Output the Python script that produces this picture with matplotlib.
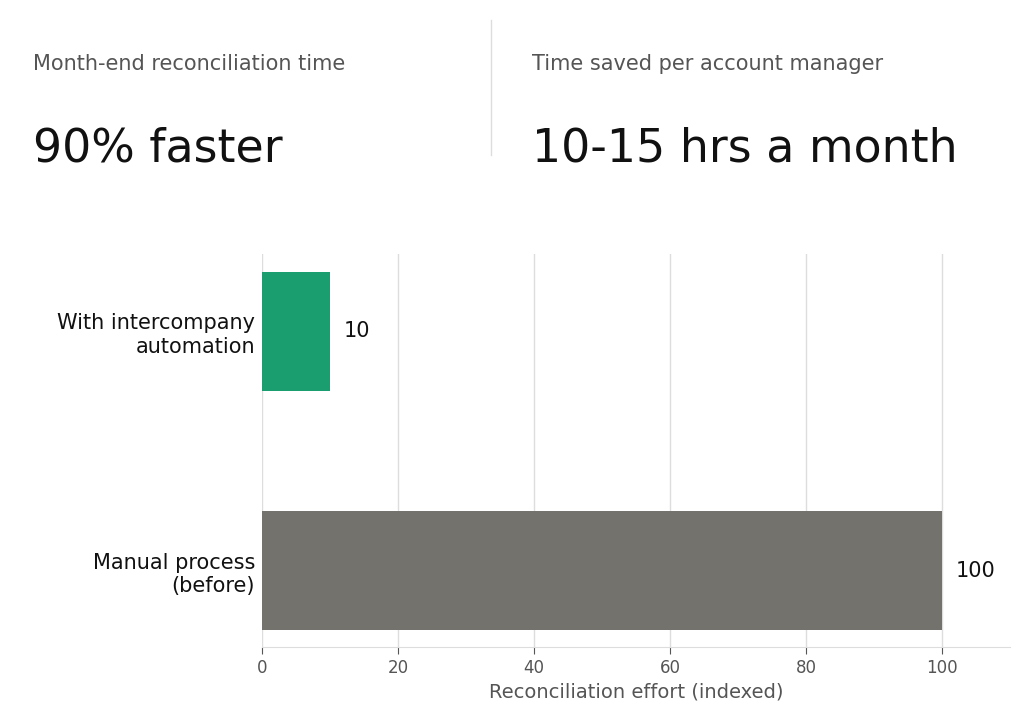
import numpy as np
import matplotlib.pyplot as plt
from matplotlib.lines import Line2D

categories = ['Manual process\n(before)', 'With intercompany\nautomation']
values = [100, 10]
colors = ['#73726c', '#1b9e6f']
xticks = [0, 20, 40, 60, 80, 100]

kpi_labels = ['Month-end reconciliation time', 'Time saved per account manager']
kpi_values = ['90% faster', '10-15 hrs a month']

plt.rcParams['font.family'] = ['DejaVu Sans']

fig = plt.figure(figsize=(10.24, 7.16), dpi=100)

# KPI header
kpi_x = [33 / 1024, 532 / 1024]
for x, lab, val in zip(kpi_x, kpi_labels, kpi_values):
    fig.text(x, 1 - 64 / 716, lab, fontsize=15, color='#555555', va='center', ha='left')
    fig.text(x, 1 - 149 / 716, val, fontsize=33, color='#111111', va='center', ha='left')
fig.add_artist(Line2D([491 / 1024, 491 / 1024], [1 - 20 / 716, 1 - 155 / 716],
                      color='#dddddd', linewidth=1))

ax = fig.add_axes([262 / 1024, 1 - 647 / 716, (1010 - 262) / 1024, (647 - 254) / 716])
y = np.arange(len(categories))
ax.barh(y, values, height=0.5, color=colors, zorder=3)
for yi, v in zip(y, values):
    ax.text(v + 2, yi, str(v), va='center', ha='left', fontsize=15, color='#111111')

ax.set_xlim(0, 110)
ax.set_ylim(-0.32, 1.324)
ax.set_yticks(y)
ax.set_yticklabels(categories, fontsize=15, color='#111111')
ax.set_xticks(xticks)
ax.tick_params(axis='x', labelsize=12, labelcolor='#555555', color='#555555', length=5)
ax.tick_params(axis='y', length=0, pad=5)
ax.set_xlabel('Reconciliation effort (indexed)', fontsize=14, color='#555555', labelpad=4)
ax.grid(axis='x', color='#dddddd', linewidth=1, zorder=0)
for s in ['top', 'right', 'left']:
    ax.spines[s].set_visible(False)
ax.spines['bottom'].set_color('#dddddd')

fig.savefig('out.png', dpi=100)
